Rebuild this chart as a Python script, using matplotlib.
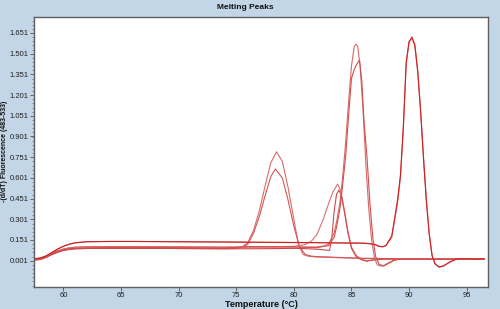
import matplotlib
matplotlib.use("Agg")
import matplotlib.pyplot as plt
from matplotlib.ticker import MultipleLocator, FixedLocator

# ---------------- data ----------------
base_T = [57.5, 58.0, 58.5, 59.0, 59.5, 60.0, 60.5, 61.0, 62.0, 64.0, 66.0, 68.0, 70.0, 72.0, 74.0]
low_base = [0.010, 0.015, 0.030, 0.050, 0.065, 0.078, 0.086, 0.090, 0.093, 0.095, 0.095, 0.095, 0.094, 0.093, 0.092]
low_base2 = [0.005, 0.010, 0.025, 0.045, 0.062, 0.075, 0.083, 0.087, 0.089, 0.090, 0.090, 0.090, 0.089, 0.088, 0.087]
mid_base = [0.012, 0.018, 0.033, 0.055, 0.072, 0.085, 0.093, 0.098, 0.101, 0.103, 0.103, 0.102, 0.101, 0.100, 0.099]
up_base = [0.015, 0.020, 0.035, 0.060, 0.085, 0.105, 0.120, 0.130, 0.138, 0.140, 0.140, 0.139, 0.138, 0.137, 0.136]

# peak ~78.5 (two replicates)
a1_T = [75.0, 75.5, 76.0, 76.5, 77.0, 77.5, 78.0, 78.5, 79.0, 79.5, 80.0, 80.4, 80.8, 81.3, 82.0, 84.0, 86.0, 90.0, 96.5]
a1_v = [0.094, 0.100, 0.130, 0.220, 0.360, 0.540, 0.710, 0.790, 0.720, 0.530, 0.300, 0.120, 0.045, 0.032, 0.028, 0.022, 0.017, 0.014, 0.012]
a2_T = [75.0, 75.5, 76.0, 76.5, 77.0, 77.5, 78.0, 78.4, 79.0, 79.5, 80.0, 80.5, 81.0, 81.5, 82.0, 84.0, 86.0, 90.0, 96.5]
a2_v = [0.090, 0.096, 0.120, 0.200, 0.320, 0.470, 0.610, 0.665, 0.600, 0.440, 0.250, 0.100, 0.045, 0.034, 0.030, 0.024, 0.018, 0.014, 0.012]

# peak ~84 (two replicates)
b1_T = [76.0, 78.0, 80.0, 80.5, 81.0, 81.5, 82.0, 82.5, 83.0, 83.4, 83.8, 84.1, 84.4, 84.7, 85.0, 85.4, 85.8, 86.3, 87.0, 88.0, 96.5]
b1_v = [0.100, 0.102, 0.105, 0.110, 0.118, 0.140, 0.190, 0.290, 0.410, 0.500, 0.556, 0.500, 0.360, 0.210, 0.100, 0.040, 0.015, 0.000, 0.008, 0.012, 0.012]
b2_T = [76.0, 78.0, 80.0, 80.5, 81.0, 81.5, 82.0, 82.5, 83.1, 83.3, 83.5, 83.7, 83.9, 84.1, 84.4, 84.7, 85.0, 85.4, 85.8, 86.3, 87.0, 88.0, 96.5]
b2_v = [0.087, 0.088, 0.090, 0.089, 0.088, 0.086, 0.084, 0.080, 0.075, 0.170, 0.360, 0.480, 0.512, 0.480, 0.350, 0.200, 0.090, 0.030, 0.010, -0.003, 0.007, 0.012, 0.012]

# peak ~85.5 (two replicates)
c1_T = [76.0, 80.0, 82.0, 82.5, 83.0, 83.5, 83.75, 84.0, 84.25, 84.5, 84.75, 85.0, 85.25, 85.4, 85.55, 85.75, 86.0, 86.25, 86.5, 86.75, 87.0, 87.25, 87.5, 87.8, 88.2, 88.7, 89.2, 96.5]
c1_v = [0.099, 0.100, 0.100, 0.105, 0.120, 0.200, 0.300, 0.420, 0.620, 0.860, 1.150, 1.410, 1.555, 1.570, 1.550, 1.410, 1.100, 0.700, 0.380, 0.150, 0.020, -0.030, -0.038, -0.035, -0.015, 0.005, 0.013, 0.012]
c2_T = [76.0, 80.0, 82.0, 83.0, 83.5, 83.75, 84.0, 84.25, 84.5, 84.75, 85.0, 85.25, 85.5, 85.7, 85.9, 86.1, 86.35, 86.6, 86.85, 87.1, 87.4, 87.8, 88.2, 88.7, 89.2, 96.5]
c2_v = [0.103, 0.100, 0.095, 0.110, 0.170, 0.260, 0.380, 0.560, 0.760, 1.050, 1.320, 1.390, 1.430, 1.455, 1.300, 1.000, 0.750, 0.420, 0.170, 0.030, -0.025, -0.038, -0.020, 0.003, 0.012, 0.012]

# peak ~90.2 (two replicates)
d1_T = [78.0, 82.0, 86.0, 86.5, 87.0, 87.4, 87.7, 88.0, 88.5, 89.0, 89.25, 89.5, 89.75, 90.0, 90.25, 90.5, 90.75, 91.0, 91.25, 91.5, 91.75, 92.0, 92.25, 92.6, 93.0, 93.5, 94.0, 94.5, 96.5]
d1_v = [0.134, 0.132, 0.128, 0.126, 0.120, 0.106, 0.102, 0.110, 0.170, 0.420, 0.600, 0.950, 1.420, 1.580, 1.624, 1.570, 1.380, 1.100, 0.760, 0.450, 0.200, 0.040, -0.020, -0.047, -0.038, -0.012, 0.008, 0.015, 0.012]
d2_T = [78.0, 82.0, 86.0, 86.5, 87.0, 87.4, 87.7, 88.0, 88.5, 89.0, 89.25, 89.5, 89.75, 90.0, 90.25, 90.5, 90.75, 91.0, 91.25, 91.5, 91.75, 92.0, 92.25, 92.6, 93.0, 93.5, 94.0, 94.5, 96.5]
d2_v = [0.133, 0.131, 0.127, 0.124, 0.118, 0.104, 0.101, 0.112, 0.180, 0.440, 0.620, 0.970, 1.440, 1.590, 1.615, 1.560, 1.370, 1.080, 0.740, 0.430, 0.190, 0.035, -0.022, -0.045, -0.036, -0.010, 0.009, 0.015, 0.012]

y_ticks = [0.001, 0.151, 0.301, 0.451, 0.601, 0.751, 0.901, 1.051, 1.201, 1.351, 1.501, 1.651]
y_tick_labels = ["0.001", "0.151", "0.301", "0.451", "0.601", "0.751", "0.901", "1.051", "1.201", "1.351", "1.501", "1.651"]
x_ticks = [60, 65, 70, 75, 80, 85, 90, 95]

curves = [
    (low_base, a1_T, a1_v, "#d96a6a"),
    (low_base2, a2_T, a2_v, "#d45555"),
    (mid_base, b1_T, b1_v, "#db7070"),
    (low_base2, b2_T, b2_v, "#d04848"),
    (mid_base, c1_T, c1_v, "#d96868"),
    (low_base, c2_T, c2_v, "#d24e4e"),
    (up_base, d1_T, d1_v, "#db6e6e"),
    (up_base, d2_T, d2_v, "#cc2020"),
]

# ---------------- figure ----------------
bg = "#c3d6e7"
fig = plt.figure(figsize=(5.0, 3.09), dpi=100, facecolor=bg)
ax = fig.add_axes([0.068, 0.0712, 0.908, 0.874])
ax.set_facecolor("white")

for base, T, v, col in curves:
    ax.plot(base_T + T, base + v, color=col, lw=0.8)

ax.set_xlim(57.45, 96.85)
ax.set_ylim(-0.19, 1.767)

font = ["Liberation Sans Narrow", "Liberation Sans", "DejaVu Sans"]

ax.yaxis.set_major_locator(FixedLocator(y_ticks))
ax.set_yticklabels(y_tick_labels, family=font, fontsize=5.5, color="#202020")
ax.yaxis.set_minor_locator(MultipleLocator(0.03))
ax.set_xticks(x_ticks)
ax.set_xticklabels([str(t) for t in x_ticks], family=font, fontsize=5.5, color="#202020")

ax.tick_params(axis="both", which="major", direction="out", length=3, width=0.6, colors="#505050", labelcolor="#202020", pad=1.0)
ax.tick_params(axis="x", which="major", pad=0.5)
ax.tick_params(axis="y", which="minor", direction="out", length=1.5, width=0.5, colors="#707070")

for s in ax.spines.values():
    s.set_color("#606060")
    s.set_linewidth(1.0)

fig.text(0.522, 0.016, "Temperature (°C)", ha="center", va="center", family=font, fontsize=6.5, fontweight="bold", color="#101010")
fig.text(0.010, 0.51, "-(d/dT) Fluorescence (483-533)", ha="center", va="center", rotation=90, family=font, fontsize=5, fontweight="bold", color="#101010")
fig.text(0.49, 0.977, "Melting Peaks", ha="center", va="center", family=font, fontsize=6, fontweight="bold", color="#101010")

fig.savefig("out.png", dpi=100, facecolor=bg)
